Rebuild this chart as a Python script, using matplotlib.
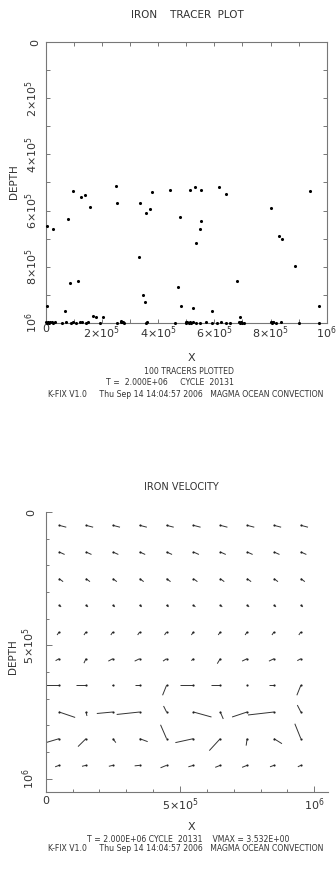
import numpy as np
import matplotlib
matplotlib.use('Agg')
import matplotlib.pyplot as plt
from matplotlib.collections import LineCollection
from matplotlib.ticker import MultipleLocator

# tracer positions (units of 1e3)
tracer_x = [250, 97, 127, 141, 157, 255, 336, 379, 442, 514, 356, 370, 478, 80, 6, 25,
            530, 554, 616, 642, 554, 549, 535, 801, 829, 840, 887, 942, 333, 85, 116, 471,
            346, 354, 483, 6, 68, 169, 179, 203, 267, 274, 680, 525, 591, 692, 972, 810,
            2, 4, 7, 12, 16, 21, 27, 33, 57, 71, 89, 98, 107, 122, 130, 142, 150, 193,
            255, 267, 273, 279, 356, 359, 460, 498, 501, 504, 510, 513, 516, 525, 534, 549,
            569, 591, 609, 624, 641, 656, 688, 692, 695, 700, 706, 801, 805, 810, 819, 837,
            903, 974]
tracer_depth = [513, 529, 550, 545, 587, 573, 573, 535, 527, 528, 609, 593, 621, 629, 654, 667,
                516, 525, 517, 542, 637, 667, 716, 589, 691, 701, 798, 529, 765, 856, 851, 872,
                900, 926, 941, 939, 959, 974, 977, 979, 992, 995, 852, 947, 959, 979, 938, 995,
                998, 999, 997, 999, 998, 996, 999, 998, 999, 997, 999, 998, 999, 998, 997, 999,
                998, 999, 999, 997, 998, 999, 999, 998, 999, 998, 999, 997, 999, 998, 999, 998,
                999, 999, 998, 999, 999, 998, 999, 999, 998, 999, 997, 999, 999, 998, 999, 997,
                999, 998, 999, 999]

# velocity field on 10x10 cell centres, rows from top to bottom
cell_x = [5e4 + 1e5 * i for i in range(10)]
cell_depth = [5e4 + 1e5 * j for j in range(10)]
U = [
    [0.95, 0.95, 0.95, 0.95, 0.95, 0.95, 0.95, 0.95, 0.95, 0.95],
    [0.73, 0.73, 0.73, 0.73, 0.73, 0.73, 0.73, 0.73, 0.73, 0.73],
    [0.53, 0.53, 0.53, 0.53, 0.53, 0.53, 0.53, 0.53, 0.53, 0.53],
    [0.27, 0.27, 0.27, 0.27, 0.27, 0.27, 0.27, 0.27, 0.27, 0.27],
    [-0.27, -0.27, -0.27, -0.27, -0.27, -0.27, -0.27, -0.27, -0.27, -0.27],
    [-0.47, -0.27, -0.60, -0.67, -0.47, -0.27, -0.40, -0.67, -0.67, -0.47],
    [-1.73, -1.33, -0.13, -0.67, -0.53, -1.73, -1.20, -0.07, -0.67, -0.53],
    [2.13, 0.13, -2.13, -3.06, -0.40, 2.40, 0.40, -2.00, -3.46, -0.47],
    [-2.00, -1.06, 0.40, 1.06, -0.80, -2.40, -1.46, -0.13, 1.06, -0.80],
    [-0.53, -0.53, -0.53, -0.67, -0.80, -0.67, -0.67, -0.67, -0.53, -0.40],
]
W = [
    [0.25, 0.25, 0.25, 0.25, 0.25, 0.25, 0.25, 0.25, 0.25, 0.25],
    [0.33, 0.33, 0.33, 0.33, 0.33, 0.33, 0.33, 0.33, 0.33, 0.33],
    [0.40, 0.40, 0.40, 0.40, 0.40, 0.40, 0.40, 0.40, 0.40, 0.40],
    [0.20, 0.20, 0.20, 0.20, 0.20, 0.20, 0.20, 0.20, 0.20, 0.20],
    [0.40, 0.40, 0.40, 0.40, 0.40, 0.40, 0.40, 0.40, 0.40, 0.40],
    [0.27, 0.60, 0.33, 0.33, 0.33, 0.27, 0.67, 0.33, 0.33, 0.27],
    [0.00, 0.00, 0.00, 0.00, 1.33, 0.00, 0.00, 0.00, 0.00, 1.33],
    [0.73, 0.53, 0.20, 0.33, -0.80, 0.67, 0.93, 0.67, 0.40, -0.93],
    [0.60, 1.06, 0.53, 0.40, -1.86, 0.53, 1.60, 0.93, 0.67, -2.00],
    [0.20, 0.13, 0.13, 0.07, 0.33, 0.20, 0.27, 0.27, 0.20, 0.20],
]
arrow_scale = 28000.0

tracer_ticks = [0, 2e5, 4e5, 6e5, 8e5, 1e6]
tracer_ticklabels = ['0', r'$2{\times}10^5$', r'$4{\times}10^5$', r'$6{\times}10^5$',
                     r'$8{\times}10^5$', r'$10^6$']
vel_ticks = [0, 5e5, 1e6]
vel_ticklabels = ['0', r'$5{\times}10^5$', r'$10^6$']

txt = '#333333'
line = '#777777'
stamp = 'K-FIX V1.0     Thu Sep 14 14:04:57 2006   MAGMA OCEAN CONVECTION'

fig = plt.figure(figsize=(3.36, 8.71), dpi=100)
W_PX, H_PX = 336, 871

# ---- tracer plot
ax1 = fig.add_axes([45.7 / W_PX, 1 - 323 / H_PX, 281 / W_PX, 281 / H_PX])
ax1.scatter(np.array(tracer_x) * 1e3, np.array(tracer_depth) * 1e3, s=5, c='black',
            marker='o', linewidths=0, clip_on=False, zorder=3)
ax1.set_xlim(0, 1e6)
ax1.set_ylim(1e6, 0)
for s in ax1.spines.values():
    s.set_color(line)
    s.set_linewidth(0.8)
ax1.set_xticks(tracer_ticks)
ax1.set_xticklabels(tracer_ticklabels)
ax1.set_yticks(tracer_ticks)
ax1.set_yticklabels(tracer_ticklabels, rotation=90, va='center')
ax1.xaxis.set_minor_locator(MultipleLocator(1e5))
ax1.yaxis.set_minor_locator(MultipleLocator(1e5))
ax1.tick_params(which='both', direction='in', length=3, width=0.7, color=line,
                top=True, right=True, labelsize=8, labelcolor=txt)
ax1.tick_params(axis='x', pad=1)
ax1.tick_params(axis='y', pad=4)

fig.text(187 / W_PX, 1 - 15 / H_PX, 'IRON    TRACER  PLOT', ha='center', va='center',
         fontsize=7.5, color=txt)
fig.text(14 / W_PX, 1 - 182 / H_PX, 'DEPTH', rotation=90, ha='center', va='center',
         fontsize=7.5, color=txt)
fig.text(191.7 / W_PX, 1 - 358 / H_PX, 'X', ha='center', va='center', fontsize=8, color=txt)
fig.text(189 / W_PX, 1 - 371 / H_PX, '100 TRACERS PLOTTED', ha='center', va='center',
         fontsize=5.6, color=txt)
fig.text(170.5 / W_PX, 1 - 382.7 / H_PX, 'T =  2.000E+06     CYCLE  20131', ha='center',
         va='center', fontsize=5.6, color=txt)
fig.text(185.5 / W_PX, 1 - 394 / H_PX, stamp, ha='center', va='center', fontsize=5.6, color=txt)

# ---- velocity plot
ax2 = fig.add_axes([45.7 / W_PX, 1 - 792 / H_PX, 282 / W_PX, 280 / H_PX])
gx, gd = np.meshgrid(cell_x, cell_depth)
u = np.array(U) * arrow_scale
w = np.array(W) * arrow_scale
segs = np.stack([np.stack([gx, gd], -1), np.stack([gx + u, gd + w], -1)], axis=2).reshape(-1, 2, 2)
ax2.add_collection(LineCollection(segs, colors='#333333', linewidths=0.7))
ax2.scatter(gx.ravel(), gd.ravel(), s=2.5, c='#222222', linewidths=0, zorder=3)
ax2.set_xlim(0, 1.05e6)
ax2.set_ylim(1.05e6, 0)
ax2.spines['top'].set_visible(False)
ax2.spines['right'].set_visible(False)
for k in ('left', 'bottom'):
    ax2.spines[k].set_color(line)
    ax2.spines[k].set_linewidth(0.8)
ax2.set_xticks(vel_ticks)
ax2.set_xticklabels(vel_ticklabels)
ax2.set_yticks(vel_ticks)
ax2.set_yticklabels(vel_ticklabels, rotation=90, va='center')
ax2.xaxis.set_minor_locator(MultipleLocator(1e5))
ax2.yaxis.set_minor_locator(MultipleLocator(1e5))
ax2.tick_params(which='major', direction='in', length=4, width=0.7, color=line,
                labelsize=8, labelcolor=txt)
ax2.tick_params(which='minor', direction='in', length=2, width=0.7, color=line)
ax2.tick_params(axis='x', pad=3)
ax2.tick_params(axis='y', pad=6.5)

fig.text(181.7 / W_PX, 1 - 486.7 / H_PX, 'IRON VELOCITY', ha='center', va='center',
         fontsize=7, color=txt)
fig.text(13 / W_PX, 1 - 656.7 / H_PX, 'DEPTH', rotation=90, ha='center', va='center',
         fontsize=7.5, color=txt)
fig.text(191.7 / W_PX, 1 - 827.3 / H_PX, 'X', ha='center', va='center', fontsize=8, color=txt)
fig.text(188.3 / W_PX, 1 - 839.3 / H_PX, 'T = 2.000E+06 CYCLE  20131    VMAX = 3.532E+00',
         ha='center', va='center', fontsize=5.6, color=txt)
fig.text(185.8 / W_PX, 1 - 848.3 / H_PX, stamp, ha='center', va='center', fontsize=5.6, color=txt)

fig.savefig('out.png', dpi=100, facecolor='white')
